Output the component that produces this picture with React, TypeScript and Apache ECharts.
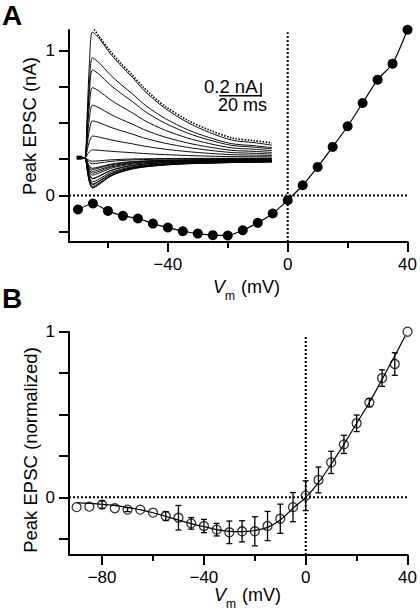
import React, { useEffect, useRef } from 'react';
import * as echarts from 'echarts';

// ---------- Panel A : peak EPSC (nA) vs Vm ----------
const vA = [-70, -65, -60, -55, -50, -45, -40, -35, -30, -25, -20, -15, -10, -5, 0, 5, 10, 15, 20, 25, 30, 35, 40];
const iA = [-0.096, -0.055, -0.106, -0.14, -0.158, -0.193, -0.22, -0.246, -0.262, -0.273, -0.275, -0.239, -0.188, -0.124, -0.032, 0.071, 0.197, 0.335, 0.477, 0.637, 0.798, 0.908, 1.142];

// inset EPSC waveforms (time in ms, shapes normalised to peak)
const traceT = [2.4, 3.6, 4.6, 5.6, 7, 10, 15, 20, 25, 30, 35, 40, 50, 60, 70, 80, 88];
const outShape = [0, 0, 0.35, 0.75, 1.0, 0.95, 0.83, 0.73, 0.64, 0.54, 0.46, 0.39, 0.28, 0.2, 0.14, 0.12, 0.1];
const inShape = [0, 0, 0.4, 0.8, 1.0, 0.88, 0.62, 0.47, 0.37, 0.31, 0.27, 0.24, 0.2, 0.18, 0.16, 0.15, 0.14];
const topFitT = [7.8, 10, 15, 20, 25, 30, 35, 40, 50, 60, 70, 80, 88];
const topFitI = [1.167, 1.1, 0.97, 0.855, 0.75, 0.64, 0.545, 0.465, 0.34, 0.25, 0.18, 0.155, 0.135];

// ---------- Panel B : normalised peak EPSC ----------
const vB = [-90, -85, -80, -75, -70, -65, -60, -55, -50, -45, -40, -35, -30, -25, -20, -15, -10, -5, 0, 5, 10, 15, 20, 25, 30, 35, 40];
const yB = [-0.059, -0.056, -0.044, -0.066, -0.074, -0.074, -0.092, -0.113, -0.123, -0.157, -0.173, -0.195, -0.211, -0.205, -0.205, -0.173, -0.129, -0.059, 0.01, 0.105, 0.211, 0.32, 0.447, 0.572, 0.72, 0.805, 1.0];
const eB = [0, 0, 0.022, 0, 0.012, 0, 0, 0.027, 0.074, 0.035, 0.04, 0.038, 0.068, 0.064, 0.088, 0.088, 0.088, 0.088, 0.09, 0.078, 0.067, 0.055, 0.05, 0.025, 0.05, 0.068, 0];
const fitV = [-90, -80, -70, -60, -50, -40, -30, -25, -20, -15, -10, -5, 0, 5, 10, 15, 20, 25, 30, 35, 39];
const fitY = [-0.032, -0.042, -0.06, -0.093, -0.137, -0.177, -0.205, -0.207, -0.2, -0.181, -0.137, -0.066, 0, 0.089, 0.2, 0.32, 0.447, 0.573, 0.712, 0.855, 0.972];

const xTicksA = [-40, 0, 40];
const xMinorA = [-60, -20, 20];
const xTicksB = [-80, -40, 0, 40];
const xMinorB = [-60, -20, 20];
const yTicks = [-0.25, 0, 0.25, 0.5, 0.75, 1];
const yLabels = [0, 1];

const FONT = '"Liberation Sans", Arial, Helvetica, sans-serif';

export default function App() {
  const ref = useRef<HTMLDivElement>(null);
  useEffect(() => {
    const chart = echarts.init(ref.current!, null, { renderer: 'svg' });
    const fmt = (v: number) => (v < 0 ? '\u2212' + Math.abs(v) : String(v));
    const line = { show: true, lineStyle: { color: '#000', width: 2 } };

    const mainX = (grid: number, min: number, max: number, ticks: number[]) => ({
      type: 'value', gridIndex: grid, min, max, position: 'bottom',
      axisLine: { ...line, onZero: false },
      axisTick: { show: true, length: 10, lineStyle: { color: '#000', width: 2 }, customValues: ticks },
      axisLabel: { show: true, customValues: ticks, formatter: fmt, margin: 14, color: '#000', fontSize: 17, fontFamily: FONT },
      splitLine: { show: false },
    });
    const minorX = (grid: number, min: number, max: number, ticks: number[]) => ({
      type: 'value', gridIndex: grid, min, max, position: 'bottom',
      axisLine: { show: false, onZero: false },
      axisTick: { show: true, length: 6, lineStyle: { color: '#000', width: 2 }, customValues: ticks },
      axisLabel: { show: false },
      splitLine: { show: false },
    });
    const mainY = (grid: number, min: number, max: number) => ({
      type: 'value', gridIndex: grid, min, max, position: 'left',
      axisLine: { ...line, onZero: false },
      axisTick: { show: true, length: 10, lineStyle: { color: '#000', width: 2 }, customValues: yTicks },
      axisLabel: { show: true, customValues: yLabels, formatter: fmt, margin: 14, color: '#000', fontSize: 17, fontFamily: FONT },
      splitLine: { show: false },
    });

    const dotted = { color: '#000', width: 2, type: [2, 2] as any };
    const base = { silent: true, animation: false, symbol: 'none', emphasis: { disabled: true }, clip: false };

    const traces = vA.map((v, k) => {
      const pk = iA[k];
      const shape = pk >= 0 ? outShape : inShape;
      return {
        ...base, type: 'line', xAxisIndex: 4, yAxisIndex: 2, z: 1, smooth: 0.3,
        lineStyle: { color: '#000', width: 0.95 },
        data: traceT.map((t, j) => [t, pk * shape[j]]),
      };
    });

    const vmRich = {
      v: { fontSize: 18, lineHeight: 18, fontStyle: 'italic', fontFamily: FONT, verticalAlign: 'top', color: '#000' },
      m: { fontSize: 12, lineHeight: 12, fontFamily: FONT, verticalAlign: 'top', padding: [12, 1, 0, 0], color: '#000' },
      t: { fontSize: 18, lineHeight: 18, fontFamily: FONT, verticalAlign: 'top', color: '#000' },
    };
    const vmText = '{v|V}{m|m}{t| (mV)}';

    const option: any = {
      animation: false,
      textStyle: { fontFamily: FONT },
      grid: [
        { left: 69, top: 30, width: 340, height: 212 },
        { left: 69, top: 331.7, width: 340, height: 223.3 },
        { left: 74.8, top: 25.7, width: 197, height: 165 },
      ],
      xAxis: [
        mainX(0, -73, 40, xTicksA),
        minorX(0, -73, 40, xMinorA),
        mainX(1, -93, 40, xTicksB),
        minorX(1, -93, 40, xMinorB),
        { type: 'value', gridIndex: 2, min: -1, max: 88, show: false },
      ],
      yAxis: [
        mainY(0, -0.32, 1.14),
        mainY(1, -0.348, 1.0),
        { type: 'value', gridIndex: 2, min: -0.3, max: 1.2, show: false },
      ],
      series: [
        ...traces,
        { ...base, type: 'line', xAxisIndex: 4, yAxisIndex: 2, z: 2, smooth: 0.3,
          lineStyle: { color: '#000', width: 1.6, type: [1.5, 1.5] }, data: topFitT.map((t, j) => [t, topFitI[j]]) },
        { ...base, type: 'line', xAxisIndex: 4, yAxisIndex: 2, z: 2,
          lineStyle: { color: '#000', width: 4 }, data: [[-0.2, 0], [2.4, 0]] },
        // panel A
        { ...base, type: 'line', xAxisIndex: 0, yAxisIndex: 0, z: 2, lineStyle: dotted, data: [[-73, 0], [40, 0]] },
        { ...base, type: 'line', xAxisIndex: 0, yAxisIndex: 0, z: 2, lineStyle: dotted, data: [[0, -0.32], [0, 1.125]] },
        { ...base, type: 'line', xAxisIndex: 0, yAxisIndex: 0, z: 3, smooth: 0.2,
          symbol: 'circle', symbolSize: 10, itemStyle: { color: '#000' },
          lineStyle: { color: '#000', width: 1.2 }, data: vA.map((v, k) => [v, iA[k]]) },
        // panel B
        { ...base, type: 'line', xAxisIndex: 2, yAxisIndex: 1, z: 2, lineStyle: dotted, data: [[-93, 0], [40, 0]] },
        { ...base, type: 'line', xAxisIndex: 2, yAxisIndex: 1, z: 2, lineStyle: dotted, data: [[0, -0.348], [0, 0.98]] },
        { ...base, type: 'custom', xAxisIndex: 2, yAxisIndex: 1, z: 3,
          data: vB.map((v, k) => [v, yB[k] - eB[k], yB[k] + eB[k]]).filter((d, k) => eB[k] > 0),
          encode: { x: 0, y: [1, 2] },
          renderItem: (params: any, api: any) => {
            const x = api.value(0);
            const lo = api.coord([x, api.value(1)]);
            const hi = api.coord([x, api.value(2)]);
            const w = 3;
            const st = { stroke: '#000', lineWidth: 1.3 };
            return {
              type: 'group',
              children: [
                { type: 'line', shape: { x1: lo[0], y1: lo[1], x2: hi[0], y2: hi[1] }, style: st },
                { type: 'line', shape: { x1: lo[0] - w, y1: lo[1], x2: lo[0] + w, y2: lo[1] }, style: st },
                { type: 'line', shape: { x1: hi[0] - w, y1: hi[1], x2: hi[0] + w, y2: hi[1] }, style: st },
              ],
            };
          } },
        { ...base, type: 'line', xAxisIndex: 2, yAxisIndex: 1, z: 4, smooth: 0.4,
          lineStyle: { color: '#000', width: 1.2 }, data: fitV.map((v, k) => [v, fitY[k]]) },
        { ...base, type: 'scatter', xAxisIndex: 2, yAxisIndex: 1, z: 5, symbol: 'circle', symbolSize: 9,
          itemStyle: { color: 'rgba(255,255,255,0)', borderColor: '#000', borderWidth: 1.3 },
          data: vB.map((v, k) => [v, yB[k]]) },
      ],
      graphic: [
        { type: 'text', x: 2, y: 15, style: { text: 'A', fontSize: 28, fontWeight: 'bold', fontFamily: FONT, fill: '#000', align: 'left', verticalAlign: 'middle' } },
        { type: 'text', x: 2, y: 298, style: { text: 'B', fontSize: 28, fontWeight: 'bold', fontFamily: FONT, fill: '#000', align: 'left', verticalAlign: 'middle' } },
        { type: 'text', x: 29, y: 126, rotation: Math.PI / 2, style: { text: 'Peak EPSC (nA)', fontSize: 18.5, fontFamily: FONT, fill: '#000', align: 'center', verticalAlign: 'middle' } },
        { type: 'text', x: 30, y: 450, rotation: Math.PI / 2, style: { text: 'Peak EPSC (normalized)', fontSize: 18.5, fontFamily: FONT, fill: '#000', align: 'center', verticalAlign: 'middle' } },
        // x-axis names
        { type: 'text', x: 213, y: 278, style: { text: vmText, rich: vmRich, fill: '#000', align: 'left', verticalAlign: 'top' } },
        { type: 'text', x: 214, y: 586, style: { text: vmText, rich: vmRich, fill: '#000', align: 'left', verticalAlign: 'top' } },
        // scale bar
        { type: 'text', x: 204, y: 86.5, style: { text: '0.2 nA', fontSize: 18.5, fontFamily: FONT, fill: '#000', align: 'left', verticalAlign: 'middle' } },
        { type: 'text', x: 218, y: 105, style: { text: '20 ms', fontSize: 18, fontFamily: FONT, fill: '#000', align: 'left', verticalAlign: 'middle' } },
        { type: 'line', shape: { x1: 219.3, y1: 95.7, x2: 261.7, y2: 95.7 }, style: { stroke: '#000', lineWidth: 1.5 } },
        { type: 'line', shape: { x1: 261, y1: 82.7, x2: 261, y2: 96.4 }, style: { stroke: '#000', lineWidth: 1.5 } },
      ],
    };
    chart.setOption(option);
    return () => chart.dispose();
  }, []);
  return <div ref={ref} style={{ position: 'absolute', left: 0, top: 0, width: 420, height: 613, background: '#fff' }} />;
}
